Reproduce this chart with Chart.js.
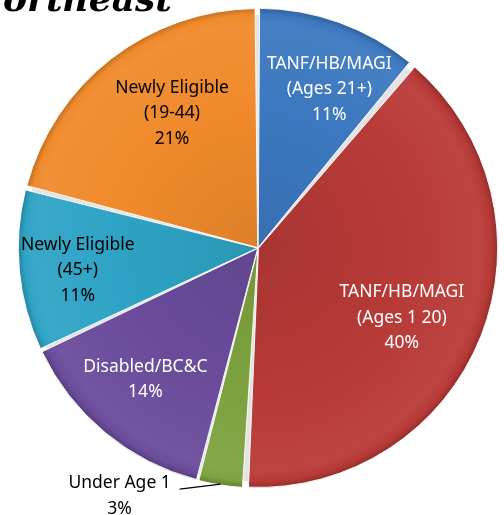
<!DOCTYPE html>
<html>
<head>
<meta charset="utf-8">
<script src="https://cdn.jsdelivr.net/npm/chart.js@4.4.1/dist/chart.umd.min.js"></script>
<style>
  html, body { margin: 0; padding: 0; background: #fff; }
  #wrap { width: 504px; height: 515px; position: relative; }
</style>
</head>
<body>
<div id="wrap"><canvas id="pie"></canvas></div>
<script>
const categories = [
  ["TANF/HB/MAGI", "(Ages 21+)"],
  ["TANF/HB/MAGI", "(Ages 1 20)"],
  ["Under Age 1"],
  ["Disabled/BC&C"],
  ["Newly Eligible", "(45+)"],
  ["Newly Eligible", "(19-44)"],
];
const shares = [11, 40, 3, 14, 11, 21];
const chartTitle = "Northeast";

const sliceColors = ["#3c78c0", "#b73a37", "#7ea23f", "#6a4c9b", "#2fa3c5", "#f08a2c"];
const labelColors = ["#ffffff", "#ffffff", "#000000", "#ffffff", "#000000", "#000000"];
// [fraction of radius, fraction across the slice] for the label block
const labelPlace = [[0.735, 0.61], [0.675, 0.53], null, [0.73, 0.52], [0.766, 0.46], [0.675, 0.57]];
const PIE_R = 237;

function mix(hex, target, amt) {
  const n = parseInt(hex.slice(1), 16);
  const r = (n >> 16) & 255, g = (n >> 8) & 255, b = n & 255;
  const t = target === "w" ? 255 : 0;
  const f = (c) => Math.round(c + (t - c) * amt);
  return "rgb(" + f(r) + "," + f(g) + "," + f(b) + ")";
}

function shade(context) {
  const i = context.dataIndex;
  const chart = context.chart;
  const area = chart.chartArea;
  if (!area) return sliceColors[i];
  const cx = (area.left + area.right) / 2;
  const cy = (area.top + area.bottom) / 2;
  const g = chart.ctx.createRadialGradient(cx, cy, 0, cx, cy, PIE_R + 3);
  g.addColorStop(0, mix(sliceColors[i], "k", 0.08));
  g.addColorStop(0.6, sliceColors[i]);
  g.addColorStop(0.93, mix(sliceColors[i], "w", 0.05));
  g.addColorStop(0.97, sliceColors[i]);
  g.addColorStop(1, mix(sliceColors[i], "k", 0.22));
  return g;
}

const FONT = "'Noto Sans', 'Open Sans', sans-serif";
const LINE_H = 25.5;

const sliceLabels = {
  id: "sliceLabels",
  beforeDatasetsDraw(chart) {
    // light grey backdrop that shows through the gaps between slices
    const meta = chart.getDatasetMeta(0);
    const p = meta.data[0].getProps(["x", "y", "outerRadius"], true);
    const ctx = chart.ctx;
    ctx.save();
    ctx.fillStyle = "#e4e4e4";
    ctx.beginPath();
    ctx.arc(p.x, p.y, p.outerRadius * 0.985, 0, Math.PI * 2);
    ctx.fill();
    ctx.restore();
  },
  afterDatasetsDraw(chart) {
    const ctx = chart.ctx;
    const meta = chart.getDatasetMeta(0);
    ctx.save();
    ctx.font = "17.5px " + FONT;
    ctx.textAlign = "center";
    ctx.textBaseline = "middle";
    meta.data.forEach((arc, i) => {
      const p = arc.getProps(["x", "y", "startAngle", "endAngle", "outerRadius"], true);
      const lines = categories[i].concat([shares[i] + "%"]);
      ctx.fillStyle = labelColors[i];
      if (labelPlace[i]) {
        const [fr, fa] = labelPlace[i];
        const a = p.startAngle + (p.endAngle - p.startAngle) * fa;
        const lx = p.x + Math.cos(a) * p.outerRadius * fr;
        const ly = p.y + Math.sin(a) * p.outerRadius * fr;
        lines.forEach((t, k) => {
          ctx.fillText(t, lx, ly + (k - (lines.length - 1) / 2) * LINE_H);
        });
      } else {
        // outside label with leader line
        const a = (p.startAngle + p.endAngle) / 2;
        const ex = p.x + Math.cos(a) * (p.outerRadius + 2);
        const ey = p.y + Math.sin(a) * (p.outerRadius + 2);
        const tx = ex - 101, ty = ey - 1;
        ctx.fillStyle = "#000";
        ctx.fillText(lines[0], tx, ty);
        ctx.fillText(lines[1], tx, ty + 26);
        ctx.strokeStyle = "#000";
        ctx.lineWidth = 1.3;
        ctx.beginPath();
        ctx.moveTo(tx + 60, ty + 6);
        ctx.lineTo(ex, ey);
        ctx.stroke();
      }
    });
    // title, mostly cut off by the top edge
    ctx.font = "bold italic 36px 'DejaVu Serif', serif";
    ctx.textAlign = "right";
    ctx.textBaseline = "alphabetic";
    ctx.fillStyle = "#000";
    ctx.fillText(chartTitle, 172, 11);
    ctx.restore();
  },
};

new Chart(document.getElementById("pie"), {
  type: "pie",
  data: {
    labels: categories.map((c) => c.join(" ")),
    datasets: [
      {
        data: shares,
        backgroundColor: shade,
        borderColor: "rgba(255,255,255,0.9)",
        borderWidth: 1,
        offset: 2,
        spacing: 4,
      },
    ],
  },
  options: {
    responsive: true,
    maintainAspectRatio: false,
    animation: false,
    radius: PIE_R,
    layout: { padding: { left: 12, right: 0, top: 0, bottom: 19 } },
    plugins: {
      legend: { display: false },
      tooltip: { enabled: false },
    },
  },
  plugins: [sliceLabels],
});
</script>
</body>
</html>
